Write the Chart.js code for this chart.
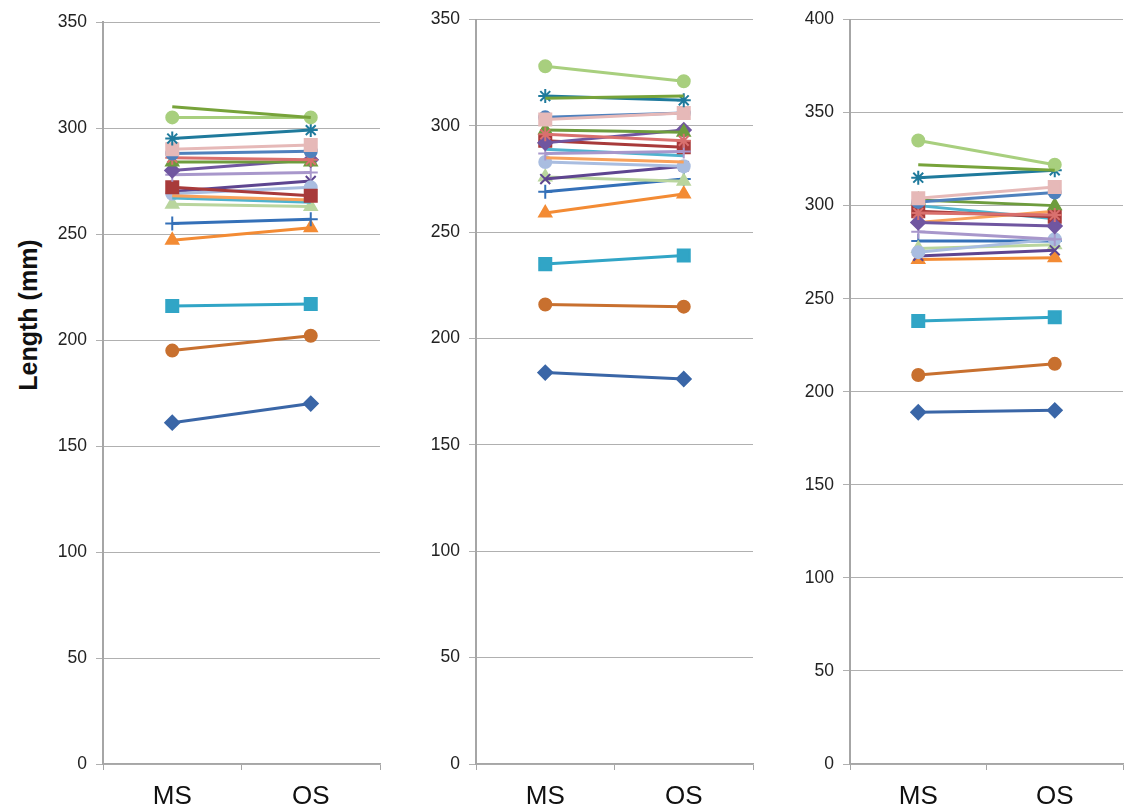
<!DOCTYPE html>
<html>
<head>
<meta charset="utf-8">
<title>Length MS vs OS</title>
<script src="https://cdn.jsdelivr.net/npm/chart.js@4.4.0/dist/chart.umd.min.js"></script>
<style>
body { margin: 0; background: #fff; width: 1125px; height: 812px; position: relative; overflow: hidden; font-family: "Liberation Sans", Arial, sans-serif; }
canvas { position: absolute; top: 0; }
#yTitle {
    position: absolute; left: 28px; top: 315px;
    transform: translate(-50%, -50%) rotate(-90deg);
    font-weight: bold; font-size: 25px; white-space: nowrap; color: #111;
}
</style>
</head>
<body>
<div id="yTitle">Length (mm)</div>
<canvas id="chartLeft" width="385" height="812" style="left:0px"></canvas>
<canvas id="chartMid" width="375" height="812" style="left:380px"></canvas>
<canvas id="chartRight" width="370" height="812" style="left:755px"></canvas>
<script>
// Categories on the x axis
const categories = ['MS', 'OS'];

// One value per subject, same subject order in every panel
const msLeft  = [161, 195, 216, 247, 255, 264, 270, 269, 267, 268, 272, 278, 280, 284, 286, 288, 290, 295, 305, 310];
const osLeft  = [170, 202, 217, 253, 257, 263, 275, 272, 265, 266, 268, 279, 285, 284, 285, 289, 292, 299, 305, 305];

const msMid   = [184, 216, 235, 259, 269, 276, 275, 283, 289, 285, 293, 287, 292, 298, 296, 304, 303, 314, 328, 313];
const osMid   = [181, 215, 239, 268, 275, 274, 281, 281, 286, 283, 290, 288, 298, 297, 293, 306, 306, 312, 321, 314];

const msRight = [189, 209, 238, 271, 281, 277, 273, 275, 300, 291, 297, 286, 291, 303, 296, 302, 304, 315, 335, 322];
const osRight = [190, 215, 240, 272, 281, 279, 276, 282, 293, 297, 294, 282, 289, 300, 295, 307, 310, 319, 322, 319];

// Y axis tick steps / limits per panel
const yMaxLeft = 350;
const yMaxMid = 350;
const yMaxRight = 400;
const yStep = 50;

// Series look (Excel style palette)
const colors = ['#3A66A7', '#C8702F', '#31A5C6', '#F38B34', '#3470B8', '#B9D59E', '#5E4590', '#A9BDE0',
                '#4FB3CF', '#F9A15A', '#A83A3A', '#A897CB', '#7056A0', '#6E9C3E', '#D9706E', '#4F81BD',
                '#E6B9B8', '#1F7A9C', '#A8CF7E', '#77A33A'];
const markers = ['rectRot', 'circle', 'rect', 'triangle', 'cross', 'triangle', 'crossRot', 'circle',
                 'line', 'line', 'rect', 'cross', 'rectRot', 'triangle', 'star', 'circle',
                 'rect', 'star', 'circle', 'line'];

function markerSize(style) {
    if (style === 'rect') return 8.5;
    if (style === 'line') return 0;
    if (style === 'circle') return 6;
    return 7;
}

function makePanel(id, msVals, osVals, yMax, axisWidth, padTop, padRight) {
    const datasets = msVals.map((v, i) => ({
        label: 'S' + (i + 1),
        data: [v, osVals[i]],
        borderColor: colors[i],
        backgroundColor: colors[i],
        borderWidth: 3,
        pointStyle: markers[i] === 'line' ? false : markers[i],
        pointRadius: markerSize(markers[i]),
        pointBorderWidth: 2,
        tension: 0,
        // later series drawn on top, like the spreadsheet does
        order: msVals.length - i
    }));

    new Chart(document.getElementById(id), {
        type: 'line',
        data: { labels: categories, datasets: datasets },
        options: {
            responsive: false,
            animation: false,
            layout: { autoPadding: false, padding: { top: padTop, right: padRight, left: 0, bottom: 0 } },
            plugins: { legend: { display: false }, tooltip: { enabled: false } },
            scales: {
                x: {
                    offset: true,
                    afterFit: s => { s.height = 48; },
                    grid: { drawOnChartArea: false, drawTicks: true, tickLength: 6, color: '#a6a6a6', offset: true },
                    border: { color: '#a6a6a6', width: 1.5 },
                    ticks: { color: '#111', padding: 11, font: { family: 'Liberation Sans', size: 26 } }
                },
                y: {
                    min: 0,
                    max: yMax,
                    afterFit: s => { s.width = axisWidth; },
                    grid: { color: '#b0b0b0', lineWidth: 1, tickLength: 7 },
                    border: { color: '#a6a6a6', width: 2 },
                    ticks: { stepSize: yStep, color: '#222', padding: 9, font: { family: 'Liberation Sans', size: 17.5 } }
                }
            }
        }
    });
}

makePanel('chartLeft', msLeft, osLeft, yMaxLeft, 103, 22, 5);
makePanel('chartMid', msMid, osMid, yMaxMid, 96, 18, 2);
makePanel('chartRight', msRight, osRight, yMaxRight, 95, 17, 2);
</script>
</body>
</html>
